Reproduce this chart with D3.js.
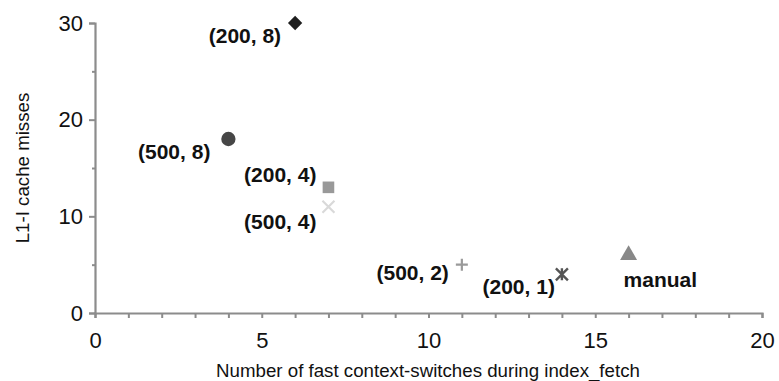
<!DOCTYPE html>
<html>
<head>
<meta charset="utf-8">
<script src="https://cdn.jsdelivr.net/npm/d3@7"></script>
<style>
  html, body { margin: 0; padding: 0; background: #fff; }
  svg { display: block; }
  text { font-family: "Liberation Sans", Arial, sans-serif; }
</style>
</head>
<body>
<svg id="chart" width="779" height="381"></svg>
<script>
// Configurations: (page size, threads) and the manual variant
const labels   = ["(200, 8)", "(500, 8)", "(200, 4)", "(500, 4)", "(500, 2)", "(200, 1)", "manual"];
const switches = [6, 4, 7, 7, 11, 14, 16];   // fast context-switches during index_fetch
const misses   = [30, 18, 13, 11, 5, 4, 6];  // L1-I cache misses
const shapes   = ["diamond", "circle", "square", "cross", "plus", "asterisk", "triangle"];
const colors   = ["#1e1e1e", "#464646", "#999999", "#d9d9d9", "#9a9a9a", "#555555", "#888888"];
const xTicks   = [0, 5, 10, 15, 20];
const yTicks   = [0, 10, 20, 30];

const svg = d3.select("#chart");
const x = d3.scaleLinear().domain([0, 20]).range([95, 762]);
const y = d3.scaleLinear().domain([0, 30]).range([313, 23]);
const axisColor = "#8c8c8c";

// Y axis
svg.append("g").attr("transform", `translate(${x(0)},0)`)
  .call(d3.axisLeft(y).tickValues(yTicks).tickSize(6).tickPadding(6).tickFormat(d3.format("d")));
svg.append("g").attr("transform", `translate(${x(0)},0)`)
  .call(d3.axisLeft(y).tickValues([5, 15, 25]).tickSize(3).tickFormat(""))
  .select(".domain").remove();

// X axis
svg.append("g").attr("transform", `translate(0,${y(0)})`)
  .call(d3.axisBottom(x).tickValues(xTicks).tickSize(5).tickPadding(14).tickFormat(d3.format("d")));
svg.append("g").attr("transform", `translate(0,${y(0)})`)
  .call(d3.axisBottom(x).tickValues(d3.range(1, 20).filter(v => v % 5 !== 0)).tickSize(5).tickFormat(""))
  .select(".domain").remove();

svg.selectAll(".domain").attr("stroke", axisColor).attr("stroke-width", 2.2);
svg.selectAll(".tick line").attr("stroke", axisColor).attr("stroke-width", 2);
svg.selectAll(".tick text").attr("fill", "#111").attr("font-size", 22)
  .style("font-family", "'Liberation Sans', Arial, sans-serif");

// Axis titles
svg.append("text")
  .attr("x", 428).attr("y", 377)
  .attr("text-anchor", "middle")
  .attr("font-size", 18.7).attr("fill", "#111")
  .text("Number of fast context-switches during index_fetch");
svg.append("text")
  .attr("transform", `translate(29,${(y(0) + y(30)) / 2}) rotate(-90)`)
  .attr("text-anchor", "middle")
  .attr("font-size", 18.7).attr("fill", "#111")
  .text("L1-I cache misses");

// Marker shapes
const symbolFor = {
  diamond:  d3.symbol().type(d3.symbolDiamond2).size(130),
  circle:   d3.symbol().type(d3.symbolCircle).size(160),
  square:   d3.symbol().type(d3.symbolSquare).size(135),
  triangle: d3.symbol().type(d3.symbolTriangle).size(125)
};

const points = labels.map((lab, i) => ({ lab, sx: switches[i], my: misses[i], shape: shapes[i], color: colors[i] }));
const marks = svg.append("g");
points.forEach(p => {
  const g = marks.append("g").attr("transform", `translate(${x(p.sx)},${y(p.my)})`);
  const r = 6;
  if (symbolFor[p.shape]) {
    g.append("path").attr("d", symbolFor[p.shape]()).attr("fill", p.color);
  } else if (p.shape === "cross") {
    g.append("path").attr("d", `M${-r},${-r}L${r},${r}M${-r},${r}L${r},${-r}`)
      .attr("stroke", p.color).attr("stroke-width", 2.2);
  } else if (p.shape === "plus") {
    g.append("path").attr("d", `M${-r},0L${r},0M0,${-r}L0,${r}`)
      .attr("stroke", p.color).attr("stroke-width", 2.2);
  } else if (p.shape === "asterisk") {
    g.append("path").attr("d", `M${-r},${-r}L${r},${r}M${-r},${r}L${r},${-r}M0,${-r}L0,${r}`)
      .attr("stroke", p.color).attr("stroke-width", 2.4);
  }
});

// Point labels
const labelOffsets = [
  { dx: -14, dy: 20, anchor: "end" },   // (200, 8)
  { dx: -18, dy: 20, anchor: "end" },   // (500, 8)
  { dx: -12, dy: -5, anchor: "end" },   // (200, 4)
  { dx: -12, dy: 22, anchor: "end" },   // (500, 4)
  { dx: -13, dy: 15, anchor: "end" },   // (500, 2)
  { dx: -7,  dy: 20, anchor: "end" },   // (200, 1)
  { dx: -5,  dy: 32, anchor: "start" }  // manual
];
svg.append("g").selectAll("text").data(points).join("text")
  .attr("x", (d, i) => x(d.sx) + labelOffsets[i].dx)
  .attr("y", (d, i) => y(d.my) + labelOffsets[i].dy)
  .attr("text-anchor", (d, i) => labelOffsets[i].anchor)
  .attr("font-size", 21).attr("font-weight", "bold").attr("fill", "#111")
  .text(d => d.lab);
</script>
</body>
</html>
